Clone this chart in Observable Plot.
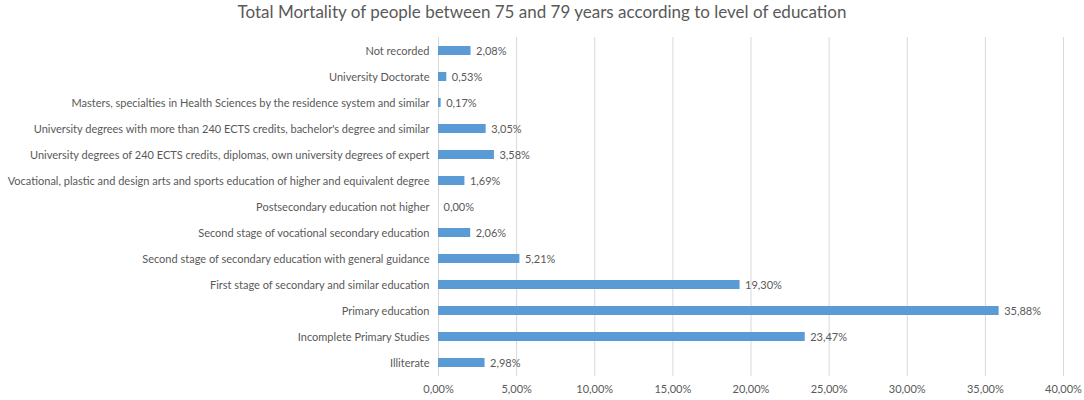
<!DOCTYPE html>
<html>
<head>
<meta charset="utf-8">
<script src="https://cdn.jsdelivr.net/npm/d3@7"></script>
<script src="https://cdn.jsdelivr.net/npm/@observablehq/plot@0.6"></script>
<style>
  body { margin: 0; background: #fff; font-family: Lato, "Open Sans", sans-serif; }
  #title { height: 28px; line-height: 24px; text-align: center; font-size: 17px; color: #595959; width: 1084px; }
</style>
</head>
<body>
<div id="title">Total Mortality of people between 75 and 79 years according to level of education</div>
<div id="chart"></div>
<script>
const categories = [
  "Not recorded",
  "University Doctorate",
  "Masters, specialties in Health Sciences by the residence system and similar",
  "University degrees with more than 240 ECTS credits, bachelor's degree and similar",
  "University degrees of 240 ECTS credits, diplomas, own university degrees of expert",
  "Vocational, plastic and design arts and sports education of higher and equivalent degree",
  "Postsecondary education not higher",
  "Second stage of vocational secondary education",
  "Second stage of secondary education with general guidance",
  "First stage of secondary and similar education",
  "Primary education",
  "Incomplete Primary Studies",
  "Illiterate"
];
const values = [2.08, 0.53, 0.17, 3.05, 3.58, 1.69, 0.00, 2.06, 5.21, 19.30, 35.88, 23.47, 2.98];
const xTicks = [0, 5, 10, 15, 20, 25, 30, 35, 40];

const data = categories.map((c, i) => ({category: c, value: values[i]}));
const fmt = v => v.toFixed(2).replace(".", ",") + "%";

const chart = Plot.plot({
  width: 1084,
  height: 372,
  marginTop: 9,
  marginBottom: 24,
  marginLeft: 438,
  marginRight: 21,
  style: {fontFamily: "Lato, 'Open Sans', sans-serif", fontSize: "11px", color: "#595959", background: "#fff"},
  x: {domain: [0, 40], ticks: xTicks, tickFormat: fmt, label: null, tickSize: 0, tickPadding: 9},
  y: {domain: categories, label: null, paddingInner: 0.65, paddingOuter: 0.29, tickSize: 0, tickPadding: 9},
  marks: [
    Plot.gridX(xTicks, {stroke: "#D9D9D9", strokeOpacity: 1, strokeWidth: 1}),
    Plot.barX(data, {x: "value", y: "category", fill: "#5B9BD5"}),
    Plot.text(data, {x: "value", y: "category", text: d => fmt(d.value), textAnchor: "start", dx: 5, fill: "#595959", fontSize: 11})
  ]
});
document.getElementById("chart").appendChild(chart);
</script>
</body>
</html>
